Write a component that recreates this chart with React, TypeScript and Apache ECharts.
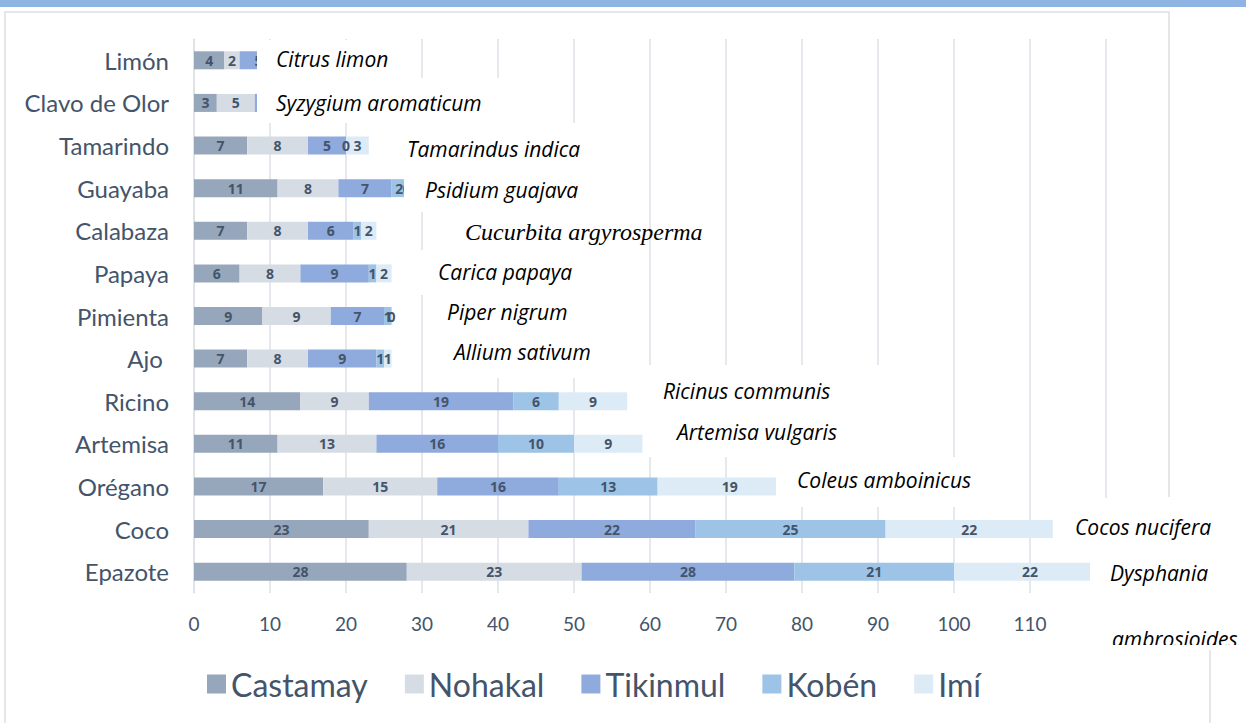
import React, { useEffect, useRef } from "react";
import * as echarts from "echarts";

const categories = ["Limón", "Clavo de Olor", "Tamarindo", "Guayaba", "Calabaza", "Papaya", "Pimienta", "Ajo ", "Ricino", "Artemisa", "Orégano", "Coco", "Epazote"];
const seriesNames = ["Castamay", "Nohakal", "Tikinmul", "Kobén", "Imí"];
const castamay = [4, 3, 7, 11, 7, 6, 9, 7, 14, 11, 17, 23, 28];
const nohakal = [2, 5, 8, 8, 8, 8, 9, 8, 9, 13, 15, 21, 23];
const tikinmul = [5, 2, 5, 7, 6, 9, 7, 9, 19, 16, 16, 22, 28];
const koben = [1, 1, 0, 2, 1, 1, 1, 1, 6, 10, 13, 25, 21];
const imi = [1, 1, 3, 0, 2, 2, 0, 1, 9, 9, 19, 22, 22];
// labels hidden under the species text boxes: [row, series]
const hiddenLabels = [[0, 3], [0, 4], [1, 2], [1, 3], [1, 4]];
const colors = ["#97A7BB", "#D6DCE4", "#8FAADC", "#9DC3E6", "#DDEBF7"];
const xTicks = { min: 0, max: 120, interval: 10 };

const speciesNames = [
  "Citrus limon", "Syzygium aromaticum", "Tamarindus indica", "Psidium guajava",
  "Cucurbita argyrosperma", "Carica papaya", "Piper nigrum", "Allium sativum",
  "Ricinus communis", "Artemisa vulgaris", "Coleus amboinicus", "Cocos nucifera", "Dysphania",
];
const speciesSecondLine = "ambrosioides";

// text box layout: [boxX, boxY, boxW, boxH, textX, textY]
const boxLayout = [
  [257, 40, 158, 38, 276, 59],
  [257, 78, 303, 45, 276, 103],
  [395, 123, 245, 47, 407, 149],
  [404, 170, 236, 42, 425, 190],
  [440, 212, 200, 38, 465, 232],
  [415, 250, 225, 45, 438, 272],
  [430, 295, 210, 43, 447, 312],
  [430, 338, 210, 40, 454, 352],
  [645, 365, 235, 52, 663, 391],
  [645, 417, 235, 40, 677, 432],
  [776, 457, 250, 50, 797, 480],
  [1060, 498, 186, 52, 1075, 527],
  [1090, 550, 156, 95, 1110, 573],
];

export default function App() {
  const ref = useRef<HTMLDivElement>(null);
  useEffect(() => {
    document.body.style.margin = "0";
    const chart = echarts.init(ref.current!, null, { renderer: "svg" });
    const dataArr = [castamay, nohakal, tikinmul, koben, imi];
    const textColor = "#44546A";
    const graphics: any[] = [
      { type: "rect", shape: { x: 0, y: 0, width: 1246, height: 7 }, style: { fill: "#8EB4E3" }, z: 100 },
      { type: "polyline", shape: { points: [[5, 723], [5, 12], [1169, 12], [1169, 497]] }, style: { stroke: "#DCDFE4", lineWidth: 1.5, fill: null }, z: 1 },
    ];
    speciesNames.forEach((name, i) => {
      const [bx, by, bw, bh, tx, ty] = boxLayout[i];
      graphics.push({ type: "rect", shape: { x: bx, y: by, width: bw, height: bh }, style: { fill: "#FFFFFF" }, z: 100 });
      const serif = name.startsWith("Cucurbita");
      graphics.push({
        type: "text", x: tx, y: ty, z: 101,
        style: {
          text: name, fill: "#000000", fontStyle: "italic",
          fontFamily: serif ? "Liberation Serif" : "Open Sans", fontSize: serif ? 24 : 21,
          verticalAlign: "middle", align: "left",
        },
      });
    });
    graphics.push({
      type: "text", x: 1112, y: 639, z: 101,
      style: { text: speciesSecondLine, fill: "#000000", fontStyle: "italic", fontFamily: "Open Sans", fontSize: 21, verticalAlign: "middle", align: "left" },
    });
    graphics.push({ type: "rect", shape: { x: 1092, y: 645, width: 154, height: 22 }, style: { fill: "#FFFFFF" }, z: 102 });
    graphics.push({ type: "line", shape: { x1: 1210, y1: 650, x2: 1210, y2: 723 }, style: { stroke: "#DCDFE4", lineWidth: 1.5 }, z: 103 });

    const isHidden = (row: number, s: number) => hiddenLabels.some(([r, c]) => r === row && c === s);

    chart.setOption({
      animation: false,
      color: colors,
      grid: { left: 194, right: 140, top: 39, bottom: 130 },
      legend: {
        data: seriesNames, top: 663, left: 202, icon: "rect",
        itemWidth: 19, itemHeight: 19, itemGap: 37,
        textStyle: { color: textColor, fontSize: 32, fontFamily: "Lato" },
      },
      xAxis: {
        type: "value", min: xTicks.min, max: xTicks.max, interval: xTicks.interval,
        axisLine: { show: false }, axisTick: { show: false },
        splitLine: { lineStyle: { color: "#DDE1E7", width: 1.5 } },
        axisLabel: { color: textColor, fontSize: 19, fontFamily: "Lato", margin: 21, showMaxLabel: false },
      },
      yAxis: {
        type: "category", data: categories, inverse: true,
        axisTick: { show: false },
        axisLine: { lineStyle: { color: "#DDE1E7", width: 1.5 } },
        axisLabel: { color: textColor, fontSize: 24, fontFamily: "Lato", margin: 25 },
      },
      series: seriesNames.map((name, i) => ({
        name, type: "bar", stack: "total", barWidth: 18,
        data: dataArr[i].map((v, row) => (isHidden(row, i) ? { value: v, label: { show: false } } : v)),
        itemStyle: { color: colors[i] },
        label: { show: true, position: "inside", color: textColor, fontWeight: "bold", fontSize: 14, fontFamily: "Open Sans" },
      })),
      graphic: graphics,
    });
    return () => chart.dispose();
  }, []);
  return <div ref={ref} style={{ width: 1246, height: 723 }} />;
}
